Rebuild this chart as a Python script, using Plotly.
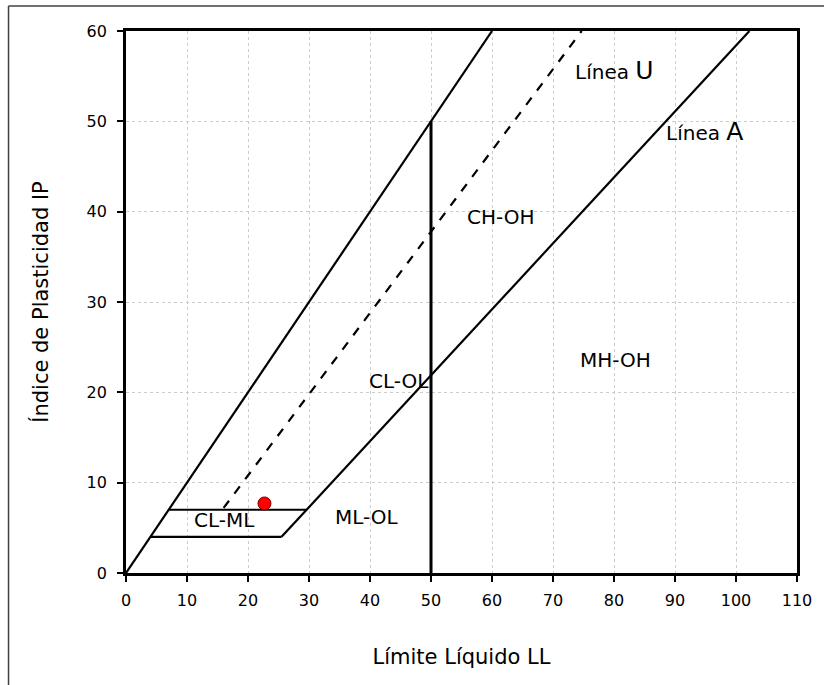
import plotly.graph_objects as go

# Boundary lines of the plasticity chart (LL, IP)
line_45_x = [0, 60]
line_45_y = [0, 60]
line_a_x = [25.5, 102.2]
line_a_y = [4, 60]
line_u_x = [16, 74.7]
line_u_y = [7.2, 60]
ll50_x = [50, 50]
ll50_y = [0, 50]
h7_x = [7, 29.6]
h7_y = [7, 7]
h4_x = [4, 25.5]
h4_y = [4, 4]

# Sample point
sample_ll = [22.7]
sample_ip = [7.7]

# Region labels
zone_labels = ["CH-OH", "CL-OL", "MH-OH", "ML-OL", "CL-ML"]
zone_x = [61.4, 44.7, 80.3, 39.5, 16.2]
zone_y = [39.4, 21.3, 23.6, 6.2, 5.9]

FONT = "DejaVu Sans"
fig = go.Figure()

def seg(x, y, w=2.2, dash="solid"):
    fig.add_trace(go.Scatter(x=x, y=y, mode="lines", hoverinfo="skip",
                             line=dict(color="black", width=w, dash=dash),
                             showlegend=False))

seg(line_45_x, line_45_y)
seg(line_a_x, line_a_y)
seg(line_u_x, line_u_y, dash="dash")
seg(ll50_x, ll50_y, w=3)
seg(h7_x, h7_y)
seg(h4_x, h4_y)

fig.add_trace(go.Scatter(x=sample_ll, y=sample_ip, mode="markers", showlegend=False,
                         marker=dict(color="#ff0000", size=13,
                                     line=dict(color="#800000", width=1))))

for t, x, y in zip(zone_labels, zone_x, zone_y):
    fig.add_annotation(x=x, y=y, text=t, showarrow=False,
                       font=dict(family=FONT, size=20, color="black"))

fig.add_annotation(x=80.1, y=55.6, showarrow=False,
                   text="Línea <span style='font-size:25px'>U</span>",
                   font=dict(family=FONT, size=20, color="black"))
fig.add_annotation(x=94.8, y=48.9, showarrow=False,
                   text="Línea <span style='font-size:25px'>A</span>",
                   font=dict(family=FONT, size=20, color="black"))

axis_common = dict(showline=True, linecolor="black", linewidth=2.8, mirror=True,
                   ticks="outside", ticklen=6, tickwidth=2, tickcolor="black",
                   showgrid=True, gridcolor="#cccccc", griddash="dot", gridwidth=1,
                   zeroline=False,
                   tickfont=dict(family=FONT, size=16, color="black"))

fig.update_xaxes(range=[0, 110], dtick=10, tick0=0, ticklabelstandoff=5, **axis_common,
                 title=dict(text="Límite Líquido LL", standoff=41,
                            font=dict(family=FONT, size=21, color="black")))
fig.update_yaxes(range=[0, 60], dtick=10, tick0=0, ticklabelstandoff=7, **axis_common,
                 title=dict(text="Índice de Plasticidad IP", standoff=33,
                            font=dict(family=FONT, size=21, color="black")))

# Outer chart-area border (left and top edges visible)
fig.add_shape(type="line", xref="paper", yref="paper",
              x0=(8 - 126) / 674, x1=1.2, y0=(573 - 6) / 542, y1=(573 - 6) / 542,
              line=dict(color="#404040", width=1.5))
fig.add_shape(type="line", xref="paper", yref="paper",
              x0=(8 - 126) / 674, x1=(8 - 126) / 674, y0=(573 - 6) / 542, y1=-0.3,
              line=dict(color="#404040", width=1.5))

fig.update_layout(width=824, height=685,
                  margin=dict(l=126, r=24, t=31, b=112),
                  paper_bgcolor="white", plot_bgcolor="white",
                  showlegend=False)

fig.write_html("out.html")
